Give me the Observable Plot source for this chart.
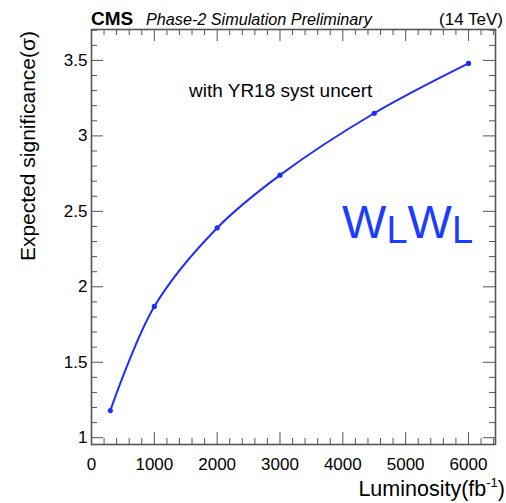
<!DOCTYPE html>
<html>
<head>
<meta charset="utf-8">
<script src="https://cdn.jsdelivr.net/npm/d3@7"></script>
<script src="https://cdn.jsdelivr.net/npm/@observablehq/plot@0.6"></script>
<style>
  html, body { margin: 0; padding: 0; background: #fff; }
  #chart svg { display: block; }
</style>
</head>
<body>
<div id="chart"></div>
<script>
// Expected W_L W_L significance versus integrated luminosity
const luminosity = [300, 1000, 2000, 3000, 4500, 6000];
const significance = [1.18, 1.87, 2.39, 2.74, 3.15, 3.48];

// Axis ticks
const xMajor = [0, 1000, 2000, 3000, 4000, 5000, 6000];
const xMinor = d3.range(0, 6401, 200).filter(v => v % 1000 !== 0);
const yMajor = [1, 1.5, 2, 2.5, 3, 3.5];
const yMinor = d3.range(10, 38).map(v => v / 10).filter(v => Math.round(v * 10) % 5 !== 0);

const points = luminosity.map((x, i) => ({x, y: significance[i]}));

const W = 506, H = 503;
const mL = 91, mR = 11, mT = 29, mB = 59;
const plotW = W - mL - mR, plotH = H - mT - mB;
const axisColor = "#555";
const lineColor = "#1f2bff";
const textBlue = "#1a3dff";
const font = "'Liberation Sans', Arial, Helvetica, sans-serif";

const chart = Plot.plot({
  width: W,
  height: H,
  marginLeft: mL,
  marginRight: mR,
  marginTop: mT,
  marginBottom: mB,
  style: {fontFamily: font, fontSize: "17px", background: "#fff", color: "#000"},
  x: {domain: [0, 6430]},
  y: {domain: [0.955, 3.705]},
  marks: [
    // tick marks drawn inward on all four sides
    Plot.ruleX(xMajor, {x: d => d, insetTop: plotH - 12, stroke: axisColor}),
    Plot.ruleX(xMajor, {x: d => d, insetBottom: plotH - 12, stroke: axisColor}),
    Plot.ruleX(xMinor, {x: d => d, insetTop: plotH - 6, stroke: axisColor}),
    Plot.ruleX(xMinor, {x: d => d, insetBottom: plotH - 6, stroke: axisColor}),
    Plot.ruleY(yMajor, {y: d => d, insetRight: plotW - 12, stroke: axisColor}),
    Plot.ruleY(yMajor, {y: d => d, insetLeft: plotW - 12, stroke: axisColor}),
    Plot.ruleY(yMinor, {y: d => d, insetRight: plotW - 6, stroke: axisColor}),
    Plot.ruleY(yMinor, {y: d => d, insetLeft: plotW - 6, stroke: axisColor}),
    Plot.frame({stroke: axisColor, strokeWidth: 1.6}),
    Plot.axisX(xMajor, {tickSize: 0, tickPadding: 13, tickFormat: d => String(d), label: null, fontSize: 17}),
    Plot.axisY(yMajor, {tickSize: 0, tickPadding: 4, tickFormat: d => String(d), label: null, fontSize: 17}),
    Plot.line(points, {x: "x", y: "y", curve: "catmull-rom", stroke: lineColor, strokeWidth: 2}),
    Plot.dot(points, {x: "x", y: "y", r: 2.6, fill: lineColor, stroke: "none"})
  ]
});

document.getElementById("chart").appendChild(chart);

// Header, annotations and axis titles
const svg = d3.select(chart);

svg.append("text")
  .attr("x", 91).attr("y", 25).attr("text-anchor", "start")
  .attr("font-family", font).attr("font-size", 19).attr("font-weight", "bold")
  .text("CMS");

svg.append("text")
  .attr("x", 146).attr("y", 25).attr("text-anchor", "start")
  .attr("font-family", font).attr("font-size", 16.2).attr("font-style", "italic")
  .text("Phase-2 Simulation Preliminary");

svg.append("text")
  .attr("x", 503).attr("y", 25).attr("text-anchor", "end")
  .attr("font-family", font).attr("font-size", 17)
  .text("(14 TeV)");

svg.append("text")
  .attr("x", 189).attr("y", 97).attr("text-anchor", "start")
  .attr("font-family", font).attr("font-size", 19)
  .text("with YR18 syst uncert");

const wl = svg.append("text")
  .attr("x", 342).attr("y", 238).attr("text-anchor", "start")
  .attr("font-family", font).attr("font-size", 47)
  .attr("fill", textBlue);
wl.append("tspan").text("W");
wl.append("tspan").attr("font-size", 38).attr("dy", 5).text("L");
wl.append("tspan").attr("dy", -5).text("W");
wl.append("tspan").attr("font-size", 38).attr("dy", 5).text("L");

const xt = svg.append("text")
  .attr("x", 505).attr("y", 496).attr("text-anchor", "end")
  .attr("font-family", font).attr("font-size", 21.5);
xt.append("tspan").text("Luminosity(fb");
xt.append("tspan").attr("font-size", 13).attr("dy", -9).text("-1");
xt.append("tspan").attr("dy", 9).text(")");

svg.append("text")
  .attr("transform", "translate(35,31) rotate(-90)")
  .attr("text-anchor", "end")
  .attr("font-family", font).attr("font-size", 21)
  .text("Expected significance(σ)");
</script>
</body>
</html>
